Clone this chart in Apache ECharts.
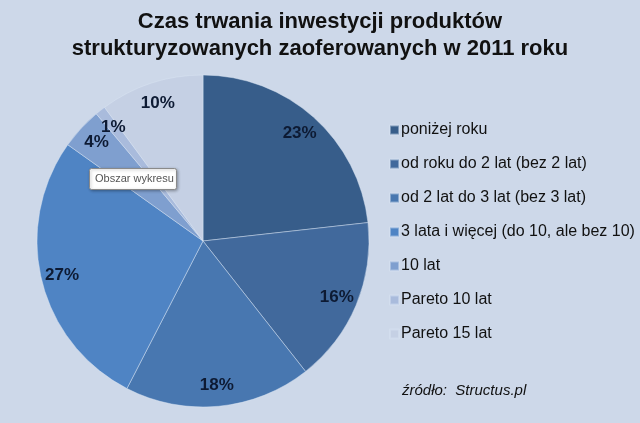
<!DOCTYPE html>
<html><head><meta charset="utf-8">
<script src="https://cdn.jsdelivr.net/npm/echarts@6/dist/echarts.min.js"></script>
<style>html,body{margin:0;padding:0;background:#cdd8e9;}#c{width:640px;height:423px;}</style>
</head><body><div id="c"></div>
<script>
var categories = ['poniżej roku','od roku do 2 lat (bez 2 lat)','od 2 lat do 3 lat (bez 3 lat)','3 lata i więcej (do 10, ale bez 10)','10 lat','Pareto 10 lat','Pareto 15 lat'];
var values = [23,16,18,27,4,1,10];
var colors = ['#375d8a','#41699c','#4877b0','#4f84c4','#7f9fcf','#a9bbdc','#c5d0e4'];
var titleText = 'Czas trwania inwestycji produktów\nstrukturyzowanych zaoferowanych w 2011 roku';
var sourceText = 'źródło:  Structus.pl';
var tipText = 'Obszar wykresu';

var data = categories.map(function(n,i){return {name:n, value:values[i], itemStyle:{color:colors[i]}};});
var chart = echarts.init(document.getElementById('c'));
chart.setOption({
  backgroundColor:'#cdd8e9',
  animation:false,
  title:{text:titleText, left:'center', top:3, textStyle:{fontFamily:'Liberation Sans, Arial', fontSize:22, fontWeight:'bold', color:'#111', lineHeight:27}},
  legend:{orient:'vertical', left:384, top:117, itemWidth:9, itemHeight:9, itemGap:18, icon:'rect',
    textStyle:{fontFamily:'Liberation Sans, Arial', fontSize:16, color:'#111', padding:[0,0,0,-3]}, data:categories},
  series:[
    {type:'pie', center:[203,241], radius:[0,166], startAngle:90, clockwise:true, data:data,
     label:{show:false}, labelLine:{show:false}, silent:true,
     itemStyle:{borderColor:'rgba(220,230,245,0.45)', borderWidth:1}},
    {type:'pie', center:[203,241], radius:[118,166], startAngle:90, clockwise:true, silent:true,
     avoidLabelOverlap:false, labelLayout:{hideOverlap:false},
     data:categories.map(function(n,i){return {name:n+' ', value:values[i]};}),
     itemStyle:{color:'rgba(0,0,0,0)', borderWidth:0},
     label:{show:true, position:'inside', overflow:'none', formatter:'{c}%', fontFamily:'Liberation Sans, Arial', fontSize:17, fontWeight:'bold', color:'#0d1a33'},
     labelLine:{show:false}}
  ],
  graphic:[
    {type:'text', left:402, top:383, z:100, style:{text:sourceText, fontFamily:'Liberation Sans, Arial', fontSize:15, fontStyle:'italic', fill:'#111'}},
    {type:'rect', z:100, shape:{x:89.5, y:168.5, width:87, height:21, r:2}, style:{fill:'#ffffff', stroke:'#8a8a8a', lineWidth:1, shadowBlur:3, shadowColor:'rgba(0,0,0,0.3)', shadowOffsetX:1, shadowOffsetY:1}},
    {type:'text', z:101, x:95, y:173, style:{text:tipText, fontFamily:'Liberation Sans, Arial', fontSize:11, fill:'#555'}}
  ]
});
</script></body></html>
